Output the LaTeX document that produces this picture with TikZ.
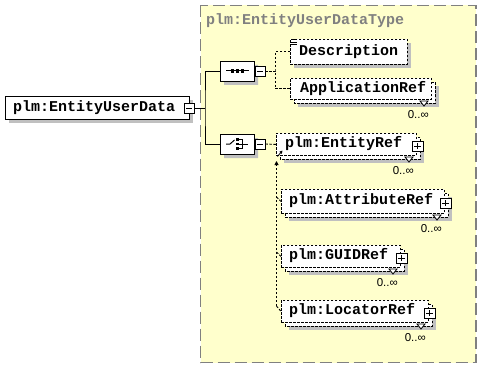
\documentclass[tikz,border=0pt]{standalone}
\usepackage{fontspec}
\usetikzlibrary{shapes.misc,arrows.meta}
\newfontfamily\xmono{Liberation Mono}
\newfontfamily\xsans{Liberation Sans}
\definecolor{yel}{RGB}{255,255,204}
\definecolor{shad}{RGB}{192,192,192}
\definecolor{gborder}{RGB}{128,128,128}
\tikzset{
  lbl/.style={font=\xmono\bfseries\fontsize{15}{15}\selectfont, inner sep=0pt, anchor=west},
  occ/.style={font=\xsans\fontsize{11.5}{11.5}\selectfont, inner sep=0pt, anchor=east},
  dashline/.style={line width=0.9pt, dash pattern=on 2.5pt off 1.5pt},
  elembox/.style={draw, fill=white, dashline, inner sep=0pt, anchor=north west},
  solidbox/.style={draw, fill=white, line width=0.9pt, inner sep=0pt, anchor=north west},
  sq/.style={draw, fill=white, line width=0.8pt, inner sep=0pt, minimum width=10pt, minimum height=10pt},
  minusbox/.style={sq, path picture={\draw[line width=0.8pt] ([xshift=2pt]path picture bounding box.west) -- ([xshift=-2pt]path picture bounding box.east);}},
  plusbox/.style={sq, minimum width=11pt, path picture={\draw[line width=0.8pt] ([xshift=2pt]path picture bounding box.west) -- ([xshift=-2pt]path picture bounding box.east); \draw[line width=0.8pt] ([yshift=2pt]path picture bounding box.south) -- ([yshift=-2pt]path picture bounding box.north);}},
  octa/.style={chamfered rectangle, chamfered rectangle xsep=7pt, chamfered rectangle ysep=7pt, minimum width=34pt, minimum height=20pt, inner sep=0pt, draw, fill=white, line width=0.9pt},
  octashadow/.style={octa, draw=none, fill=shad},
}
% repeated element: #1 name, #2 x1, #3 y1, #4 x2, #5 y2 (front box), #6 text, #7 text x
\newcommand{\repel}[7]{%
  \fill[shad] (#2+8,#3+8) rectangle (#4+8,#5+8);
  \draw[dashline, fill=white] (#2+4,#3+4) rectangle (#4+4,#5+4);
  \node[elembox, minimum width={(#4-#2)*1pt}, minimum height={(#5-#3)*1pt}] (#1) at (#2,#3) {};
  \node[lbl] (#1-t) at (#7,{(#3+#5)/2}) {#6};
  \draw[line width=0.8pt, fill=white] (#4-11,#5+2) -- (#4-3,#5+2) -- (#4-7,#5+7) -- cycle;
  \node[occ] (#1-o) at (#4-2,#5+16) {0..∞};
}
\begin{document}
\begin{tikzpicture}[x=1pt,y=-1pt]
\useasboundingbox (0,0) rectangle (482,369);
\fill[white] (0,0) rectangle (482,369);
% complex type area
\draw[draw=gborder, fill=yel, line width=1.4pt, dash pattern=on 12pt off 5pt] (200.5,5.5) rectangle (476,362.5);
\node[lbl, text=gborder] (title) at (206,21) {plm:EntityUserDataType};
% root element
\fill[shad] (9,100) rectangle (193,123);
\node[solidbox, minimum width=184pt, minimum height=23pt] (root) at (5,96) {};
\node[lbl] (root-t) at (13,107.5) {plm:EntityUserData};
\node[minusbox] (rootm) at (189,108.5) {};
% sequence compositor
\node[octashadow] (seq-s) at (241,75) {};
\node[octa] (seq) at (237,71) {};
\draw[line width=1pt] (226,71) -- (249,71);
\fill (230.5,69.3) rectangle (233.8,72.7);
\fill (235.5,69.3) rectangle (238.8,72.7);
\fill (240.5,69.3) rectangle (243.8,72.7);
\node[minusbox] (seqm) at (260,71) {};
% choice compositor
\node[octashadow] (cho-s) at (241,148) {};
\node[octa] (cho) at (237,144) {};
\draw[line width=1pt] (226,144) -- (230,144) -- (234.5,140);
\fill (235.8,138.2) rectangle (238.8,141);
\fill (235.8,142.6) rectangle (238.8,145.4);
\fill (235.8,147) rectangle (238.8,149.8);
\draw[line width=0.9pt] (239,139.5) -- (242.5,139.5) -- (242.5,148.5) -- (239,148.5);
\draw[line width=0.9pt] (239,144) -- (248,144);
\node[minusbox] (chom) at (260,144) {};
% root connectors
\coordinate (j1) at (205,108.5);
\draw[line width=0.9pt] (rootm.east) -- (j1);
\draw[line width=0.9pt] (seq.west) -| (j1) |- (cho.west);
% sequence children
\fill[shad] (294,43) rectangle (411,68);
\node[elembox, minimum width=117pt, minimum height=25pt] (desc) at (290,39) {};
\node[lbl] (desc-t) at (299,51.5) {Description};
\draw[line width=0.7pt] (291,39.8) -- (297,39.8) (291,42) -- (297,42) (291,44.2) -- (297,44.2);
\repel{app}{290}{78}{431}{99}{ApplicationRef}{300}
\coordinate (sj) at (275,71);
\draw[dashline] (seqm.east) -- (sj);
\draw[dashline] (desc.west) -| (sj) |- (app.west);
% choice children
\repel{ent}{276}{133}{416}{155}{plm:EntityRef}{285}
\node[plusbox] (ent-p) at (417.5,146) {};
\repel{attr}{281}{189}{444}{213}{plm:AttributeRef}{289}
\node[plusbox] (attr-p) at (445.5,203) {};
\repel{guid}{281}{245}{400}{267}{plm:GUIDRef}{289}
\node[plusbox] (guid-p) at (401.5,258) {};
\repel{loc}{281}{300}{428}{322}{plm:LocatorRef}{289}
\node[plusbox] (loc-p) at (429.5,313) {};
\draw[dashline] (chom.east) -- (ent.west);
\coordinate (cv0) at (276.5,161);
\coordinate (cv1) at (276.5,197);
\coordinate (cv2) at (276.5,252);
\coordinate (cv3) at (276.5,306);
\draw[dashline, -{Triangle[length=4pt,width=4pt]}] (cv3) -- (cv0);
\draw[dashline] (cv1) -- (attr.west);
\draw[dashline] (cv2) -- (guid.west);
\draw[dashline] (cv3) -- (loc.west);
\coordinate (da0) at (277.5,156.5);
\coordinate (da1) at (282.5,150.5);
\draw[line width=0.8pt, -{Triangle[length=3pt,width=3pt]}] (da0) -- (da1);
\end{tikzpicture}
\end{document}
